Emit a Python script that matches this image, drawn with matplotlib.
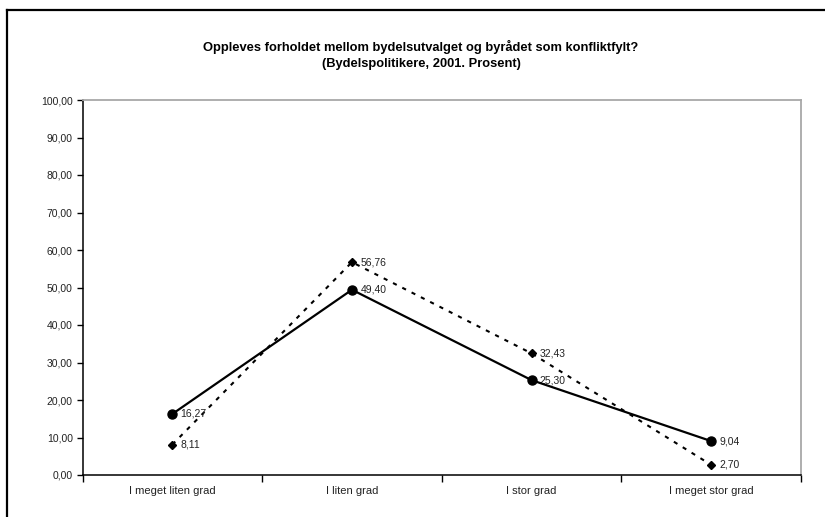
import matplotlib
matplotlib.use("Agg")
import matplotlib.pyplot as plt
from matplotlib.lines import Line2D

plt.rcParams['font.family'] = ['Liberation Sans', 'DejaVu Sans']

categories = ["I meget liten grad", "I liten grad", "I stor grad", "I meget stor grad"]
solid_values = [16.27, 49.40, 25.30, 9.04]
dashed_values = [8.11, 56.76, 32.43, 2.70]
y_ticks = [0, 10, 20, 30, 40, 50, 60, 70, 80, 90, 100]
title = "Oppleves forholdet mellom bydelsutvalget og byrådet som konfliktfylt?\n(Bydelspolitikere, 2001. Prosent)"

W, H = 825, 517
fig = plt.figure(figsize=(W / 100, H / 100), dpi=100)
fig.patch.set_facecolor("white")

# outer frame
fig.add_artist(Line2D([7 / W, 7 / W], [0, 1 - 10 / H], color="black", lw=1.6, transform=fig.transFigure))
fig.add_artist(Line2D([7 / W, 1], [1 - 10 / H, 1 - 10 / H], color="black", lw=1.6, transform=fig.transFigure))

left, right, top, bottom = 82.5, 801, 100, 475
ax = fig.add_axes([left / W, 1 - bottom / H, (right - left) / W, (bottom - top) / H])

x = list(range(len(categories)))
ax.plot(x, dashed_values, color="black", lw=1.5, linestyle=(0, (2, 3)), marker="D", markersize=4.5, zorder=3)
ax.plot(x, solid_values, color="black", lw=1.6, linestyle="-", marker="o", markersize=6.5, zorder=4)

for xi, v in zip(x, solid_values):
    ax.annotate(f"{v:.2f}".replace(".", ","), (xi, v), xytext=(6, 0), textcoords="offset points",
                va="center", ha="left", fontsize=7.5, color="#222222")
for xi, v in zip(x, dashed_values):
    ax.annotate(f"{v:.2f}".replace(".", ","), (xi, v), xytext=(6, 0), textcoords="offset points",
                va="center", ha="left", fontsize=7.5, color="#222222")

ax.set_xlim(-0.5, len(categories) - 0.5)
ax.set_ylim(0, 100)
ax.set_yticks(y_ticks)
ax.set_yticklabels([f"{t:.2f}".replace(".", ",") for t in y_ticks], fontsize=7.5, color="#222222")
ax.set_xticks([i - 0.5 for i in range(len(categories) + 1)])
ax.set_xticklabels([])
ax.set_xticks(x, minor=True)
ax.set_xticklabels(categories, minor=True, fontsize=8, color="#222222")
ax.tick_params(axis="x", which="major", direction="out", length=5, width=1)
ax.tick_params(axis="x", which="minor", length=0, pad=8)
ax.tick_params(axis="y", direction="out", length=4, width=1, pad=3)

for s in ["left", "bottom"]:
    ax.spines[s].set_color("black")
    ax.spines[s].set_linewidth(1.1)
for s in ["top", "right"]:
    ax.spines[s].set_color("#a8a8a8")
    ax.spines[s].set_linewidth(1.3)

fig.text(421 / W, 1 - 55 / H, title, ha="center", va="center", fontsize=9.3, fontweight="bold",
         linespacing=1.55)

fig.savefig("out.png", dpi=100, facecolor="white")
